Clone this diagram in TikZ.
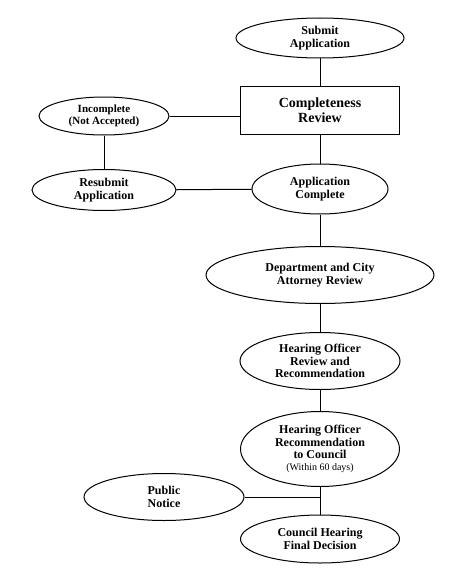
\documentclass[tikz,border=0pt]{standalone}
\usepackage{fontspec}
\setmainfont{Liberation Serif}
\usetikzlibrary{shapes.geometric}
\newcommand{\smallnote}[1]{{\fontsize{10}{11}\selectfont\mdseries #1}}

\begin{document}
\begin{tikzpicture}[
  x=1pt, y=-1pt,
  line width=1pt,
  font=\fontsize{12}{12.5}\selectfont\bfseries,
  stage/.style={draw, ellipse, inner sep=0pt, align=center},
  reviewbox/.style={draw, rectangle, inner sep=0pt, align=center,
                    font=\fontsize{14}{14.5}\selectfont\bfseries},
]
  \useasboundingbox (0,0) rectangle (464,578);

  % ===================== MAIN COLUMN =====================
  \node[stage, minimum width=168pt, minimum height=40pt] (submit) at (320,38)
    {Submit\\Application};
  \node[reviewbox, minimum width=159pt, minimum height=48pt] (review) at (320,110)
    {Completeness\\Review};
  \node[stage, minimum width=136pt, minimum height=50pt] (appc) at (320,189)
    {Application\\Complete};
  \node[stage, minimum width=228pt, minimum height=57pt] (dept) at (320,275)
    {Department and City\\Attorney Review};
  \node[stage, minimum width=160pt, minimum height=57pt] (horeview) at (320,361)
    {Hearing Officer\\Review and\\Recommendation};
  \node[stage, minimum width=159pt, minimum height=75pt] (horec) at (320,449)
    {Hearing Officer\\Recommendation\\to Council\\[-1pt]\smallnote{(Within 60 days)}};
  \node[stage, minimum width=159pt, minimum height=48pt] (council) at (320,539)
    {Council Hearing\\Final Decision};

  % ===================== SIDE BRANCHES =====================
  \node[stage, minimum width=130pt, minimum height=38pt, font=\fontsize{11}{12}\selectfont\bfseries]
    (incomplete) at (104,116) {Incomplete\\(Not Accepted)};
  \node[stage, minimum width=144pt, minimum height=41pt] (resubmit) at (104,190)
    {Resubmit\\Application};
  \node[stage, minimum width=160pt, minimum height=47pt] (notice) at (164,497)
    {Public\\Notice};
  \coordinate (jn) at (320,497);

  % connectors
  \draw (submit) -- (review);
  \draw (review) -- (appc);
  \draw (appc) -- (dept);
  \draw (dept) -- (horeview);
  \draw (horeview) -- (horec);
  \draw (horec) -- (council);
  \draw (incomplete.east) -- (incomplete.east -| review.west);
  \draw (incomplete) -- (resubmit);
  \draw (resubmit) -- (appc);
  \draw (notice) -- (jn);
\end{tikzpicture}
\end{document}
